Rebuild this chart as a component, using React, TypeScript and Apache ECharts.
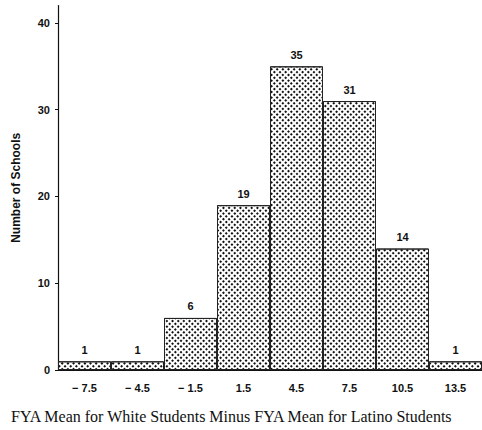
import React, { useEffect, useRef } from "react";
import * as echarts from "echarts";

const categories = ["− 7.5", "− 4.5", "− 1.5", "1.5", "4.5", "7.5", "10.5", "13.5"];
const counts = [1, 1, 6, 19, 35, 31, 14, 1];
const yTicks = [0, 10, 20, 30, 40];
const xTitle = "FYA Mean for White Students Minus FYA Mean for Latino Students";
const yTitle = "Number of Schools";

export default function App() {
  const ref = useRef<HTMLDivElement>(null);
  useEffect(() => {
    if (!ref.current) return;
    const chart = echarts.init(ref.current, null, { renderer: "svg" });
    const sans = "'Liberation Sans', Arial, sans-serif";
    chart.setOption({
      animation: false,
      backgroundColor: "#ffffff",
      title: {
        text: xTitle,
        left: 6,
        top: 403,
        textStyle: {
          fontFamily: "'Liberation Serif', 'Times New Roman', serif",
          fontWeight: "normal",
          fontSize: 16,
          color: "#111",
        },
      },
      grid: { left: 58, top: 5.6, width: 428, height: 364.4, containLabel: false },
      xAxis: {
        type: "category",
        data: categories,
        boundaryGap: true,
        axisLine: { show: true, lineStyle: { color: "#111", width: 1 } },
        axisTick: { show: false },
        axisLabel: {
          margin: 12,
          fontFamily: sans,
          fontWeight: "bold",
          fontSize: 11,
          color: "#111",
        },
      },
      yAxis: {
        type: "value",
        min: 0,
        max: 42,
        interval: 10,
        name: yTitle,
        nameLocation: "middle",
        nameGap: 36,
        nameTextStyle: {
          fontFamily: sans,
          fontWeight: "bold",
          fontSize: 12,
          color: "#111",
        },
        splitLine: { show: false },
        axisLine: { show: true, lineStyle: { color: "#111", width: 1.2 } },
        axisTick: { show: true, length: 3, lineStyle: { color: "#111" }, customValues: yTicks },
        axisLabel: {
          margin: 8,
          fontFamily: sans,
          fontWeight: "bold",
          fontSize: 11,
          color: "#111",
          customValues: yTicks,
          formatter: (v: number) => (yTicks.includes(v) ? String(v) : ""),
        },
      },
      series: [
        {
          type: "bar",
          data: counts,
          barWidth: "100%",
          barCategoryGap: "0%",
          itemStyle: {
            color: "#ffffff",
            borderColor: "#222",
            borderWidth: 1,
            decal: {
              symbol: "rect",
              symbolSize: 1,
              color: "#111",
              dashArrayX: [1.2, 1.8],
              dashArrayY: [1.2, 1.8],
              rotation: Math.PI / 4,
            },
          },
          label: {
            show: true,
            position: "top",
            distance: 6,
            fontFamily: sans,
            fontWeight: "bold",
            fontSize: 11,
            color: "#111",
          },
        },
      ],
    });
    return () => chart.dispose();
  }, []);
  return (
    <div
      ref={ref}
      style={{ position: "fixed", left: 0, top: 0, width: 482, height: 430, background: "#fff" }}
    />
  );
}
